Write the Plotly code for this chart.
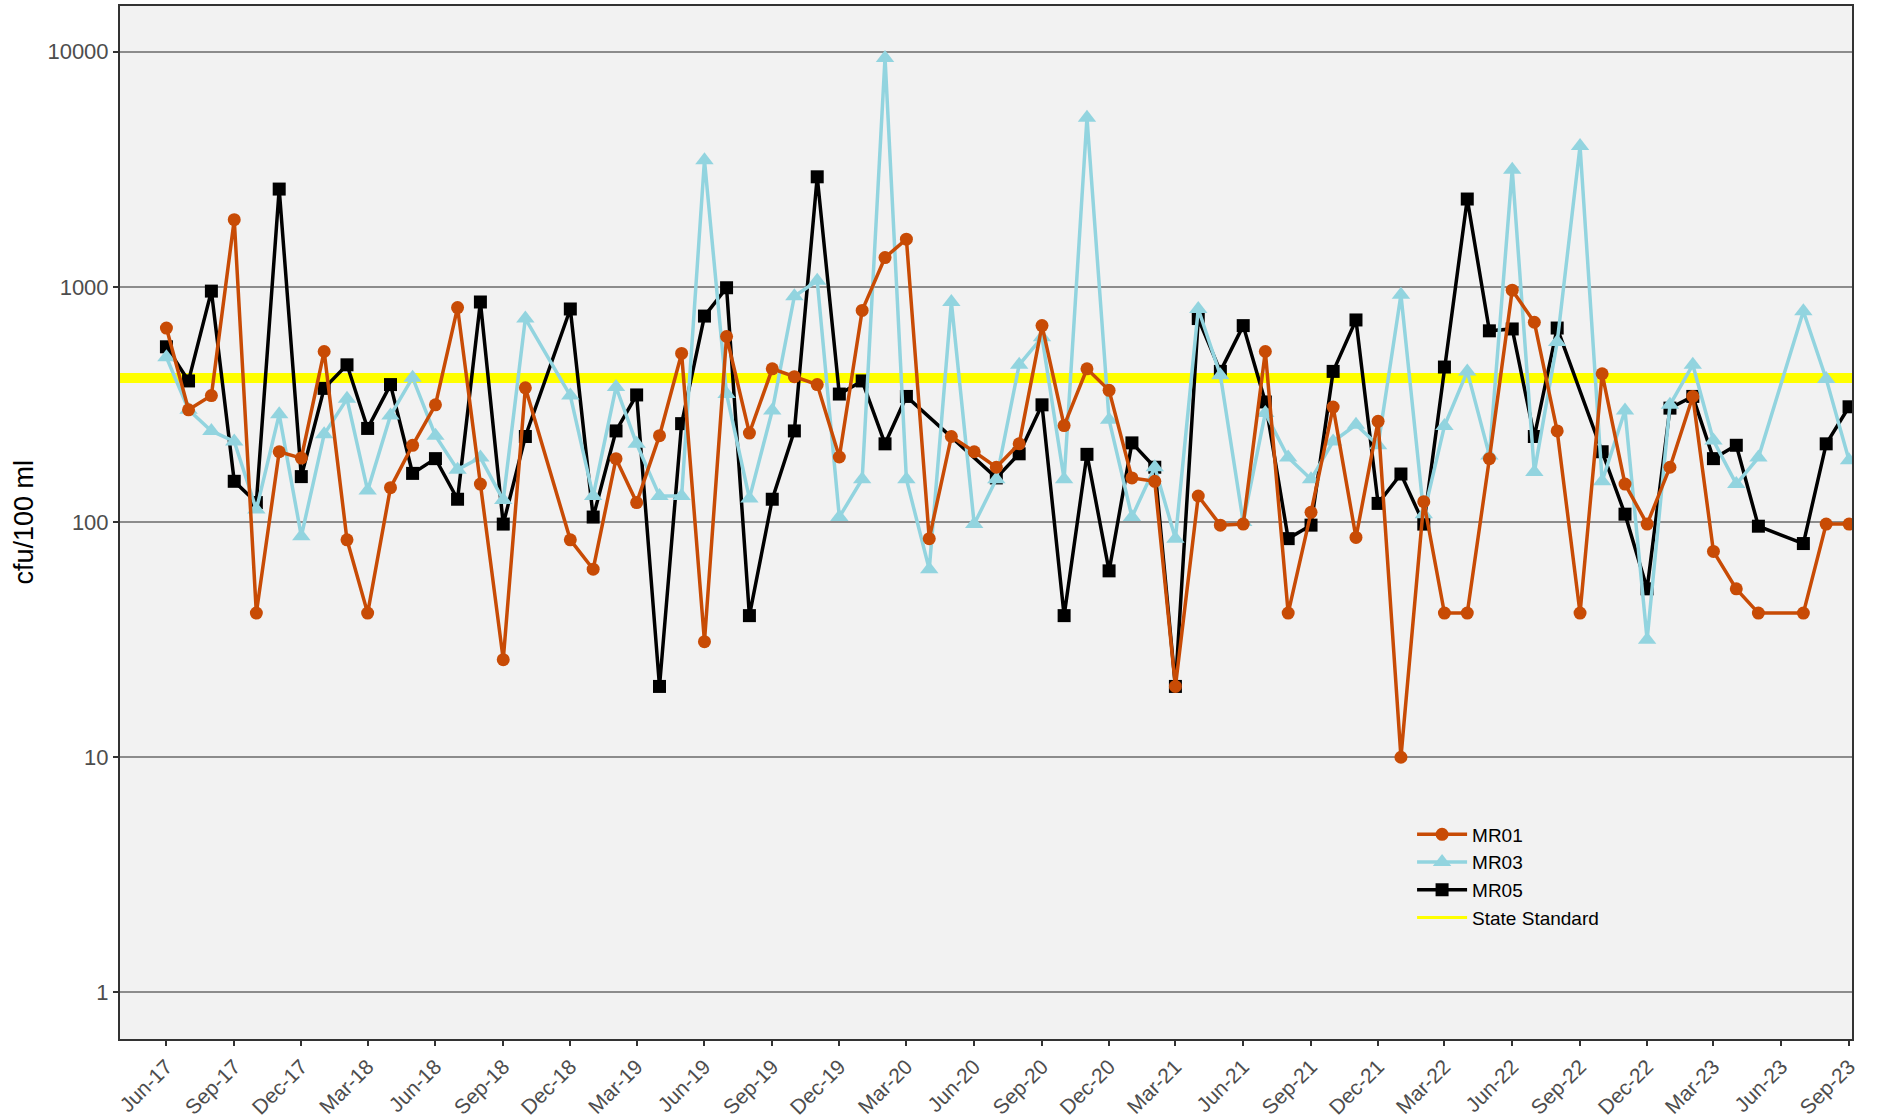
import pandas as pd
import plotly.graph_objects as go

# ---------------- data ----------------
MONTHS = [d.strftime("%Y-%m-%d") for d in pd.date_range("2017-06-01", "2023-09-01", freq="MS")]

MR01 = [
    # 2017 Jun-Dec
    668, 300, 345, 1930, 41, 199, 187,
    # 2018
    531, 84, 41, 140, 212, 315, 816, 145, 26, 372, None, 84,
    # 2019
    63, 186, 121, 233, 521, 31, 615, 239, 448, 415, 384, 189,
    # 2020
    794, 1332, 1595, 85, 231, 199, 171, 215, 684, 257, 448, 363,
    # 2021
    154, 149, 20, 129, 97, 98, 531, 41, 110, 308, 86, 268,
    # 2022
    10, 122, 41, 41, 186, 968, 707, 244, 41, 427, 145, 98,
    # 2023 Jan-Sep
    171, 342, 75, 52, 41, None, 41, 98, 98,
]

MR03 = [
    502, 300, 244, 220, 113, 287, 87,
    236, 334, 136, 284, 411, 233, 167, 188, 124, 733, None, 345,
    129, 375, 215, 129, 129, 3453, 350, 126, 298, 912, 1062, 105,
    152, 9400, 152, 63, 862, 98, 152, 466, 610, 152, 5234, 272,
    105, 171, 85, 805, 421, 100, 291, 188, 152, 220, 259, 212,
    925, 108, 256, 437, 192, 3148, 163, 582, 3966, 149, 298, 31.6,
    315, 466, 222, 145, 188, None, 787, 406, 183,
]

MR05 = [
    556, 398, 959, 149, 121, 2604, 156,
    370, 466, 250, 384, 161, 186, 125, 862, 98, 231, None, 805,
    105, 244, 347, 20, 262, 751, 991, 40, 125, 244, 2936, 350,
    398, 215, 342, None, None, None, 154, 195, 315, 40, 194, 62,
    217, 171, 20, 733, 437, 684, 324, 85, 97, 437, 723, 120,
    160, 98, 456, 2362, 650, 662, 231, 668, None, 199, 108, 52,
    305, 342, 186, 212, 96, None, 81, 215, 309,
]

STATE_STANDARD = 410
Y_TICKS = [1, 10, 100, 1000, 10000]
Y_TICK_TEXT = ["1", "10", "100", "1000", "10000"]
X_RANGE = ["2017-03-30", "2023-09-05"]

# ---------------- styles ----------------
FONT = "Liberation Sans, Arial, sans-serif"
C01 = "#C84B05"
C03 = "#92D4DF"
C05 = "#000000"
YELLOW = "#FFFF00"

fig = go.Figure()

# state standard (thick band), below the series
fig.add_shape(type="line", xref="paper", x0=0, x1=1, yref="y",
              y0=STATE_STANDARD, y1=STATE_STANDARD,
              line=dict(color=YELLOW, width=10), layer="between")

fig.add_trace(go.Scatter(x=MONTHS, y=MR05, name="MR05", mode="lines+markers",
                         connectgaps=True, legendrank=3,
                         line=dict(color=C05, width=3.5),
                         marker=dict(symbol="square", size=13, color=C05)))
fig.add_trace(go.Scatter(x=MONTHS, y=MR03, name="MR03", mode="lines+markers",
                         connectgaps=True, legendrank=2,
                         line=dict(color=C03, width=3.5),
                         marker=dict(symbol="triangle-up", size=16, color=C03)))
fig.add_trace(go.Scatter(x=MONTHS, y=MR01, name="MR01", mode="lines+markers",
                         connectgaps=True, legendrank=1,
                         line=dict(color=C01, width=3.5),
                         marker=dict(symbol="circle", size=13, color=C01)))
# legend entry for the standard
fig.add_trace(go.Scatter(x=[None], y=[None], name="State Standard", mode="lines",
                         legendrank=4, line=dict(color=YELLOW, width=3)))

fig.update_layout(
    width=1881, height=1118,
    margin=dict(l=120, r=29, t=6, b=79),
    paper_bgcolor="white",
    plot_bgcolor="#F2F2F2",
    font=dict(family=FONT, color="#4D4D4D"),
    showlegend=True,
    legend=dict(x=0.746, y=0.2164, xanchor="left", yanchor="top",
                bgcolor="rgba(0,0,0,0)", font=dict(size=19, color="#000000"),
                tracegroupgap=0, itemwidth=50),
    annotations=[dict(text="cfu/100 ml", xref="paper", yref="paper",
                      x=-0.056, y=0.5, xanchor="center", yanchor="middle",
                      textangle=-90, showarrow=False,
                      font=dict(size=27, color="#000000", family=FONT))],
)

fig.update_xaxes(
    type="date", range=X_RANGE, automargin=False,
    tick0="2017-06-01", dtick="M3", tickformat="%b-%y", tickangle=-45,
    ticks="outside", ticklen=5, tickwidth=2, tickcolor="#333333",
    tickfont=dict(size=21, color="#4D4D4D"),
    showgrid=False, zeroline=False,
    showline=True, linecolor="#333333", linewidth=2, mirror=True,
)
fig.update_yaxes(
    type="log", range=[-0.198, 4.194], automargin=False,
    tickvals=Y_TICKS, ticktext=Y_TICK_TEXT,
    ticks="outside", ticklen=5, tickwidth=2, tickcolor="#333333",
    tickfont=dict(size=22, color="#4D4D4D"),
    showgrid=True, gridcolor="#8C8C8C", gridwidth=2,
    zeroline=False, minor=dict(showgrid=False),
    showline=True, linecolor="#333333", linewidth=2, mirror=True,
)

fig.write_html("out.html", config={"displayModeBar": False},
               post_script="document.body.style.margin='0';")
